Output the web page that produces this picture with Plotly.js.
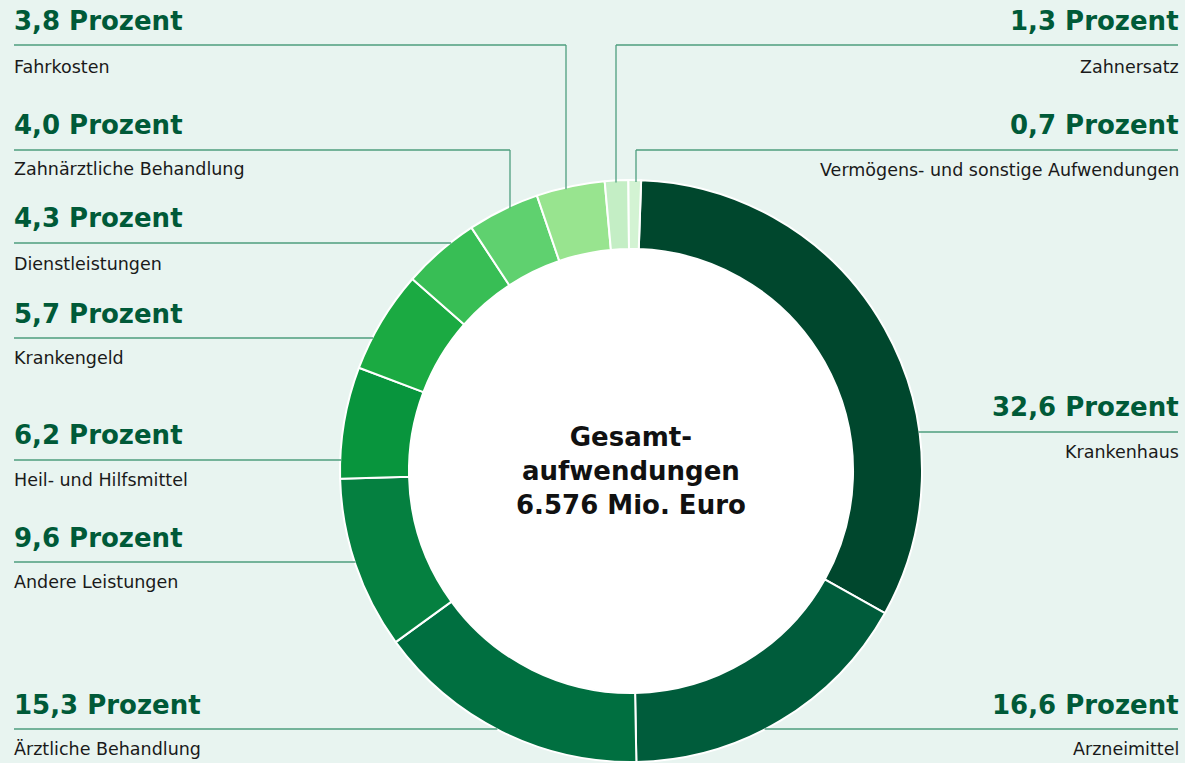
<!DOCTYPE html>
<html>
<head>
<meta charset="utf-8">
<script src="https://cdn.plot.ly/plotly-3.0.1.min.js"></script>
<style>
  html, body { margin: 0; padding: 0; background: #E8F4F0; }
  #chart { width: 1185px; height: 763px; }
</style>
</head>
<body>
<div id="chart"></div>
<script>
// ---- Data ----
const categories = [
  "Krankenhaus", "Arzneimittel", "Ärztliche Behandlung", "Andere Leistungen",
  "Heil- und Hilfsmittel", "Krankengeld", "Dienstleistungen",
  "Zahnärztliche Behandlung", "Fahrkosten", "Zahnersatz",
  "Vermögens- und sonstige Aufwendungen"
];
const shares = [32.6, 16.6, 15.3, 9.6, 6.2, 5.7, 4.3, 4.0, 3.8, 1.3, 0.7];
const shareLabels = ["32,6", "16,6", "15,3", "9,6", "6,2", "5,7", "4,3", "4,0", "3,8", "1,3", "0,7"];
const centerText = "Gesamt-<br>aufwendungen<br>6.576 Mio. Euro";

// ---- Styles / layout ----
const sliceColors = ["#00472D", "#005C3B", "#006F40", "#058040", "#08953D", "#1BAA42",
                     "#38BE55", "#5FD16F", "#98E48F", "#C4EEC5", "#D3F3D3"];
const W = 1185, H = 763;
const cx = 631, cy = 471, R = 291, holeFrac = 0.763;
const px = x => x / W;
const py = y => 1 - y / H;

// label placements: side, title y, line y, sub y, optional vertical leader x
const place = [
  {side: "R", ty: 407, ly: 432, sy: 452},
  {side: "R", ty: 705, ly: 729, sy: 749},
  {side: "L", ty: 705, ly: 729, sy: 749},
  {side: "L", ty: 538, ly: 562, sy: 582},
  {side: "L", ty: 435, ly: 460, sy: 480},
  {side: "L", ty: 314, ly: 338, sy: 358},
  {side: "L", ty: 218, ly: 243, sy: 264},
  {side: "L", ty: 125, ly: 150, sy: 169, vx: 510},
  {side: "L", ty: 21,  ly: 45,  sy: 67,  vx: 566},
  {side: "R", ty: 21,  ly: 45,  sy: 67,  vx: 616},
  {side: "R", ty: 125, ly: 150, sy: 170, vx: 636}
];
const lineLeftX = 14, lineRightX = 1178;
const textLeftX = 12, textRightX = 1181;
const lineColor = "#4E9E7E";
const pctColor = "#005A38";
const boldFam = "'DejaVu Sans', sans-serif";
const regFam = "'DejaVu Sans', sans-serif";

const annotations = [];
const shapes = [];
categories.forEach((cat, i) => {
  const p = place[i];
  const isL = p.side === "L";
  const tx = isL ? textLeftX : textRightX;
  const lx = isL ? lineLeftX : lineRightX;
  const anchor = isL ? "left" : "right";
  annotations.push({
    x: px(tx), y: py(p.ty), xref: "paper", yref: "paper", xanchor: anchor, yanchor: "middle",
    text: "<b>" + shareLabels[i] + " Prozent</b>", showarrow: false,
    font: {family: boldFam, size: 26, color: pctColor}
  });
  annotations.push({
    x: px(tx), y: py(p.sy), xref: "paper", yref: "paper", xanchor: anchor, yanchor: "middle",
    text: cat, showarrow: false,
    font: {family: regFam, size: 17.5, color: "#1A1A1A"}
  });
  let endX;
  if (p.vx !== undefined) {
    endX = p.vx;
    const dx = p.vx - cx;
    const endY = cy - Math.sqrt(R * R - dx * dx) + 2;
    shapes.push({type: "line", xref: "paper", yref: "paper",
      x0: px(p.vx), y0: py(p.ly), x1: px(p.vx), y1: py(endY),
      line: {color: lineColor, width: 1.3}});
  } else {
    const dy = p.ly - cy;
    const dxr = Math.sqrt(R * R - dy * dy);
    endX = isL ? cx - dxr + 1 : cx + dxr - 1;
  }
  shapes.push({type: "line", xref: "paper", yref: "paper",
    x0: px(lx), y0: py(p.ly), x1: px(endX), y1: py(p.ly),
    line: {color: lineColor, width: 1.3}});
});

annotations.push({
  x: px(cx), y: py(cy), xref: "paper", yref: "paper", xanchor: "center", yanchor: "middle",
  text: "<b>" + centerText + "</b>", showarrow: false,
  font: {family: boldFam, size: 26, color: "#111111"}
});

const trace = {
  type: "pie",
  labels: categories,
  values: shares,
  sort: false,
  direction: "clockwise",
  rotation: 2,
  hole: holeFrac,
  textinfo: "none",
  hoverinfo: "label+percent",
  marker: {colors: sliceColors, line: {color: "#FFFFFF", width: 2}},
  domain: {x: [px(cx - R), px(cx + R)], y: [py(cy + R), py(cy - R)]},
  showlegend: false
};

const layout = {
  width: W, height: H,
  margin: {l: 0, r: 0, t: 0, b: 0},
  paper_bgcolor: "#E8F4F0",
  plot_bgcolor: "#E8F4F0",
  showlegend: false,
  annotations: annotations,
  shapes: shapes,
  font: {family: regFam}
};

// white inner disk
layout.shapes.unshift({type: "circle", xref: "paper", yref: "paper",
  x0: px(cx - R * holeFrac), x1: px(cx + R * holeFrac),
  y0: py(cy + R * holeFrac), y1: py(cy - R * holeFrac),
  fillcolor: "#FFFFFF", line: {width: 0}, layer: "below"});

Plotly.newPlot("chart", [trace], layout, {displayModeBar: false, staticPlot: true});
</script>
</body>
</html>
